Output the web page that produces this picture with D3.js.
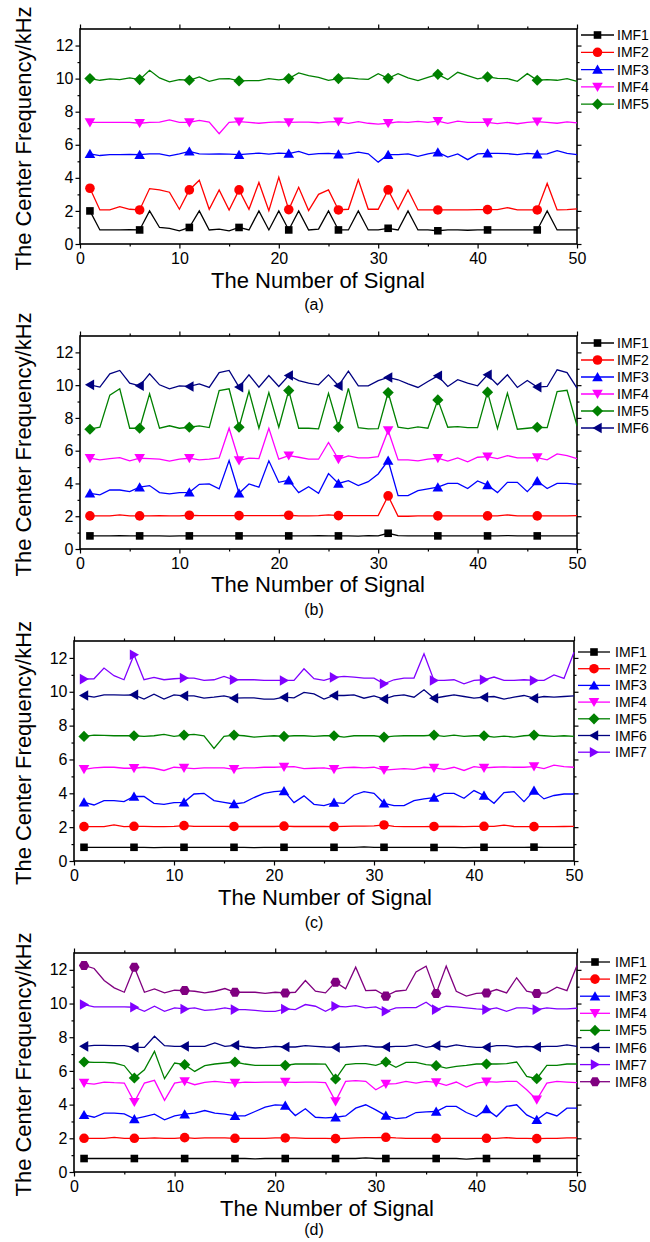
<!DOCTYPE html>
<html><head><meta charset="utf-8">
<script src="https://cdn.jsdelivr.net/npm/d3@7"></script>
<style>body{margin:0;background:#fff} svg{display:block}</style>
</head><body><svg id="chart" width="650" height="1242"></svg>
<script>
const FONT = '"Liberation Sans", Arial, sans-serif';
const xTicks = [0, 10, 20, 30, 40, 50];
const xMinor = [5, 15, 25, 35, 45];
const yTicks = [0, 2, 4, 6, 8, 10, 12];
const yMinor = [1, 3, 5, 7, 9, 11];
const seriesNames = ['IMF1', 'IMF2', 'IMF3', 'IMF4', 'IMF5', 'IMF6', 'IMF7', 'IMF8'];
const panelLabels = ['(a)', '(b)', '(c)', '(d)'];
const xTitle = 'The Number of Signal';
const yTitle = 'The Center Frequency/kHz';

// Panel (a)
const aIMF1 = [2.0,0.85,0.85,0.85,0.87,0.85,2.0,1.0,0.95,0.8, 1.0,2.0,0.85,0.9,0.8,1.0,0.85,2.0,0.85,2.0, 0.85,2.0,0.85,0.9,2.0,0.85,0.85,2.0,0.85,0.85, 0.95,0.85,2.0,0.85,0.85,0.8,0.85,0.85,0.83,0.85, 0.85,0.85,0.85,0.85,0.85,0.85,2.0,0.85,0.85,0.85];
const aIMF2 = [3.37,2.06,2.06,2.26,2.1,2.06,3.35,3.27,3.13,2.1, 3.27,3.86,2.1,3.27,2.06,3.27,2.1,3.72,2.02,4.04, 2.08,3.43,2.02,3.0,3.27,2.06,2.1,3.88,2.1,2.1, 3.27,2.1,3.27,2.06,2.06,2.06,2.06,2.06,2.06,2.08, 2.08,2.08,2.2,2.06,2.06,2.06,3.66,2.06,2.08,2.12];
const aIMF3 = [5.45,5.35,5.4,5.4,5.42,5.4,5.45,5.45,5.33,5.45, 5.6,5.45,5.43,5.45,5.43,5.4,5.45,5.5,5.43,5.5, 5.47,5.6,5.4,5.46,5.48,5.43,5.45,5.55,5.45,4.95, 5.4,5.4,5.45,5.3,5.45,5.55,5.25,5.45,5.1,5.45, 5.48,5.48,5.46,5.4,5.48,5.43,5.45,5.65,5.48,5.4];
const aIMF4 = [7.35,7.35,7.35,7.35,7.35,7.3,7.35,7.37,7.5,7.35, 7.35,7.47,7.37,6.67,7.35,7.4,7.35,7.3,7.35,7.38, 7.35,7.37,7.37,7.33,7.38,7.4,7.3,7.4,7.3,7.25, 7.3,7.38,7.35,7.42,7.35,7.43,7.3,7.43,7.35,7.35, 7.35,7.28,7.35,7.27,7.35,7.4,7.35,7.3,7.38,7.32];
const aIMF5 = [10.0,9.9,9.98,9.94,10.04,9.94,10.5,10.04,9.8,9.94, 9.9,10.1,9.84,9.98,10.0,9.86,9.88,9.88,10.0,9.92, 10.0,10.34,10.18,10.08,9.9,10.0,10.04,9.98,9.96,10.3, 10.02,10.3,10.04,9.88,10.08,10.26,9.94,10.38,10.18,9.98, 10.1,10.02,10.0,9.84,10.3,9.9,9.94,9.9,10.0,9.84];

// Panel (b)
const bIMF1 = [0.8,0.8,0.8,0.82,0.8,0.8,0.8,0.8,0.79,0.8, 0.8,0.8,0.8,0.8,0.8,0.8,0.8,0.8,0.8,0.8, 0.8,0.8,0.8,0.82,0.8,0.8,0.8,0.78,0.82,0.8, 0.96,0.82,0.8,0.8,0.8,0.8,0.8,0.8,0.8,0.8, 0.8,0.8,0.82,0.8,0.8,0.8,0.8,0.8,0.8,0.8];
const bIMF2 = [2.02,2.02,2.02,2.08,2.02,2.02,2.02,2.04,2.02,2.02, 2.06,2.04,2.04,2.04,2.04,2.04,2.04,2.04,2.04,2.04, 2.06,2.02,2.02,2.04,2.08,2.04,2.04,2.04,2.04,2.04, 3.24,2.0,2.0,2.02,2.02,2.02,2.02,2.02,2.02,2.02, 2.02,2.02,2.08,2.02,2.02,2.02,2.02,2.02,2.02,2.04];
const bIMF3 = [3.4,3.3,3.6,3.6,3.5,3.77,3.87,3.44,3.36,3.44, 3.46,3.95,3.97,3.67,5.4,3.4,3.97,3.77,5.38,4.07, 4.2,3.44,3.8,3.4,4.6,4.0,4.17,3.87,4.11,4.58, 5.4,3.26,3.26,3.56,3.67,3.77,4.0,4.0,3.69,4.15, 3.9,3.44,4.07,4.07,3.5,4.15,3.69,4.0,4.0,3.95];
const bIMF4 = [5.54,5.44,5.52,5.58,5.38,5.54,5.52,5.48,5.36,5.48, 5.54,5.44,5.48,5.56,7.37,5.4,5.54,5.52,7.37,5.48, 5.7,5.6,5.48,5.48,6.5,5.48,5.68,5.56,5.56,5.64, 7.23,5.44,5.44,5.38,5.48,5.54,5.36,5.56,5.32,5.6, 5.64,5.52,5.7,5.56,5.56,5.58,5.44,5.8,5.7,5.52];
const bIMF5 = [7.31,7.43,9.39,9.78,7.37,7.37,9.47,7.37,7.52,7.37, 7.43,7.52,7.41,9.67,9.78,7.43,9.63,7.37,9.55,7.43, 9.67,7.37,7.37,7.33,9.5,7.43,9.8,7.41,7.33,7.35, 9.55,7.43,7.35,7.45,7.37,9.1,7.43,7.47,7.41,7.41, 9.57,7.35,9.51,7.31,7.37,7.43,7.41,9.61,9.69,7.52];
const bIMF6 = [10.02,9.88,10.69,10.9,10.12,9.96,10.69,10.02,9.78,9.96, 9.92,10.08,9.86,10.77,10.9,9.88,10.63,9.88,10.59,9.92, 10.59,10.28,10.12,10.02,10.63,9.96,10.86,9.96,9.96,10.28, 10.47,10.33,10.08,9.86,10.22,10.57,9.92,10.33,10.12,9.96, 10.63,10.02,10.63,9.86,10.28,9.88,9.92,10.94,10.77,9.82];

// Panel (c)
const cIMF1 = [0.81,0.8,0.81,0.81,0.8,0.81,0.81,0.79,0.81,0.8, 0.81,0.81,0.8,0.81,0.81,0.81,0.81,0.79,0.8,0.81, 0.81,0.81,0.81,0.8,0.81,0.81,0.81,0.8,0.83,0.81, 0.81,0.81,0.81,0.81,0.8,0.8,0.81,0.81,0.79,0.81, 0.81,0.81,0.81,0.81,0.81,0.82,0.81,0.8,0.81,0.8];
const cIMF2 = [2.03,2.03,2.03,2.13,2.03,2.05,2.05,2.03,2.03,2.05, 2.09,2.05,2.05,2.05,2.05,2.04,2.04,2.04,2.04,2.04, 2.06,2.04,2.04,2.05,2.04,2.03,2.05,2.06,2.06,2.07, 2.13,2.05,2.03,2.03,2.03,2.04,2.04,2.04,2.03,2.05, 2.05,2.05,2.12,2.04,2.03,2.03,2.03,2.03,2.04,2.05];
const cIMF3 = [3.47,3.31,3.57,3.57,3.51,3.81,3.81,3.41,3.35,3.45, 3.47,3.96,4.0,3.57,3.47,3.37,3.45,3.75,4.0,4.1, 4.14,3.45,3.85,3.35,3.27,3.45,3.41,3.9,4.1,4.0, 3.41,3.27,3.27,3.57,3.67,3.75,4.0,4.0,3.71,4.16, 3.87,3.41,4.04,4.1,3.51,4.16,3.67,3.87,3.96,3.96];
const cIMF4 = [5.42,5.5,5.54,5.54,5.48,5.48,5.54,5.48,5.35,5.54, 5.5,5.46,5.5,5.5,5.5,5.42,5.5,5.5,5.54,5.54, 5.56,5.58,5.46,5.48,5.5,5.42,5.52,5.54,5.5,5.54, 5.37,5.42,5.46,5.42,5.54,5.5,5.42,5.54,5.35,5.58, 5.5,5.54,5.56,5.54,5.54,5.58,5.46,5.66,5.58,5.54];
const cIMF5 = [7.36,7.44,7.42,7.4,7.4,7.4,7.36,7.4,7.48,7.36, 7.44,7.48,7.4,6.65,7.36,7.44,7.4,7.32,7.36,7.4, 7.36,7.4,7.4,7.36,7.4,7.4,7.32,7.4,7.4,7.4, 7.32,7.38,7.4,7.4,7.4,7.44,7.36,7.44,7.36,7.4, 7.4,7.32,7.38,7.32,7.4,7.44,7.4,7.36,7.4,7.36];
const cIMF6 = [9.78,9.68,9.82,9.82,9.8,9.82,9.57,9.86,9.57,9.82, 9.76,9.76,9.62,9.68,9.76,9.62,9.64,9.64,9.57,9.57, 9.68,9.64,9.96,9.88,9.57,9.78,9.78,9.82,9.62,9.76, 9.57,9.76,9.82,9.68,10.12,9.62,9.72,9.82,9.72,9.62, 9.68,9.72,9.57,9.68,9.78,9.62,9.72,9.68,9.72,9.76];
const cIMF7 = [10.75,10.77,11.4,10.95,10.71,12.19,10.71,10.85,10.71,10.77, 10.81,10.81,10.67,10.71,10.91,10.71,10.71,10.71,10.67,10.67, 10.67,10.67,11.36,10.77,10.67,10.85,10.91,10.87,10.81,10.81, 10.47,10.71,10.81,10.81,12.25,10.67,10.67,10.71,10.47,10.67, 10.71,10.87,10.67,10.67,10.71,10.67,10.67,11.0,10.79,12.33];

// Panel (d)
const dIMF1 = [0.8,0.8,0.8,0.8,0.8,0.8,0.8,0.8,0.8,0.8, 0.8,0.8,0.8,0.8,0.8,0.8,0.8,0.78,0.8,0.8, 0.8,0.8,0.8,0.8,0.8,0.8,0.8,0.8,0.84,0.8, 0.8,0.8,0.8,0.8,0.8,0.8,0.8,0.8,0.76,0.8, 0.8,0.8,0.8,0.8,0.8,0.8,0.8,0.8,0.8,0.8];
const dIMF2 = [2.0,2.0,2.0,2.06,2.0,2.0,2.0,2.02,2.0,2.0, 2.04,2.0,2.02,2.02,2.02,2.0,2.0,2.0,2.0,2.02, 2.02,2.02,2.0,2.0,2.0,1.98,2.0,2.02,2.04,2.04, 2.06,2.02,2.0,2.0,2.0,2.0,2.0,2.0,2.0,2.0, 2.0,2.0,2.04,2.0,2.0,1.98,2.0,2.0,2.02,2.02];
const dIMF3 = [3.39,3.25,3.49,3.49,3.45,3.15,3.29,3.43,3.1,3.33, 3.43,3.49,3.65,3.49,3.43,3.33,3.33,3.59,3.85,3.99, 3.95,3.35,3.75,3.25,3.21,3.25,3.33,3.79,3.99,3.69, 3.35,3.17,3.23,3.53,3.57,3.59,3.89,3.89,3.53,3.29, 3.73,3.29,3.89,3.99,3.39,3.1,3.53,3.33,3.79,3.79];
const dIMF4 = [5.28,5.22,5.34,5.3,5.28,4.15,5.28,5.44,4.25,5.28, 5.38,5.18,5.32,5.38,5.32,5.28,5.34,5.32,5.34,5.34, 5.34,5.32,5.34,5.34,5.3,4.19,5.38,5.42,5.38,4.88, 5.22,5.24,5.38,5.28,5.38,5.32,5.14,5.34,5.04,5.28, 5.36,5.34,5.38,5.38,4.88,4.29,5.28,5.38,5.34,5.3];
const dIMF5 = [6.53,6.51,6.51,6.47,6.31,5.58,6.07,7.16,5.54,6.47, 6.37,5.97,6.31,6.41,6.47,6.53,6.41,6.33,6.33,6.33, 6.33,6.41,6.41,6.41,6.4,5.52,6.37,6.43,6.43,6.33, 6.53,6.21,6.51,6.51,6.37,6.31,6.17,6.27,6.33,6.41, 6.41,6.41,6.43,6.53,5.67,5.54,6.33,6.33,6.41,6.41];
const dIMF6 = [7.46,7.52,7.52,7.5,7.5,7.4,7.4,8.06,7.5,7.46, 7.46,7.46,7.46,7.66,7.46,7.52,7.42,7.36,7.4,7.46, 7.42,7.42,7.5,7.46,7.42,7.4,7.42,7.46,7.5,7.42, 7.42,7.46,7.46,7.56,7.4,7.5,7.42,7.54,7.46,7.4, 7.4,7.5,7.5,7.42,7.46,7.42,7.46,7.46,7.54,7.46];
const dIMF7 = [9.94,9.8,9.8,9.8,9.8,9.78,9.54,9.84,9.54,9.74, 9.68,9.74,9.6,9.64,9.74,9.64,9.64,9.6,9.54,9.54, 9.68,9.64,9.94,9.84,9.54,9.84,9.8,9.88,9.74,9.8, 9.54,9.74,9.76,9.76,10.08,9.64,9.84,9.8,9.74,9.68, 9.64,9.74,9.54,9.74,9.74,9.64,9.74,9.68,9.68,9.72];
const dIMF8 = [12.26,12.08,11.37,10.93,10.67,12.16,10.67,10.87,10.63,10.79, 10.77,10.73,10.63,10.73,10.89,10.67,10.67,10.67,10.6,10.67, 10.63,10.67,11.37,10.73,10.63,11.27,10.87,12.16,10.77,10.79, 10.44,10.73,10.79,11.87,12.22,10.6,12.22,10.73,10.44,10.6, 10.63,10.83,10.63,11.53,10.73,10.6,10.63,10.97,10.77,12.26];

const panelSeries = [
  [aIMF1, aIMF2, aIMF3, aIMF4, aIMF5],
  [bIMF1, bIMF2, bIMF3, bIMF4, bIMF5, bIMF6],
  [cIMF1, cIMF2, cIMF3, cIMF4, cIMF5, cIMF6, cIMF7],
  [dIMF1, dIMF2, dIMF3, dIMF4, dIMF5, dIMF6, dIMF7, dIMF8]
];

// Styles
const colors = ['#000000', '#ff0000', '#0000ff', '#ff00ff', '#008000', '#000080', '#8000ff', '#800080'];
const shapes = ['square', 'circle', 'triUp', 'triDown', 'diamond', 'triLeft', 'triRight', 'hexagon'];

// Layout
const layouts = [
  {left: 80, right: 577, top: 29, bottom: 244, lgX0: 581, lgX1: 614, lgText: 617, lgY0: 35, lgDy: 17.3, xTitleX: 318, xTitleY: 288, labY: 310},
  {left: 80, right: 577, top: 336, bottom: 549, lgX0: 581, lgX1: 614, lgText: 617, lgY0: 343, lgDy: 17.0, xTitleX: 318, xTitleY: 592, labY: 615},
  {left: 74, right: 574, top: 641, bottom: 861, lgX0: 578, lgX1: 610, lgText: 615, lgY0: 652, lgDy: 16.7, xTitleX: 325, xTitleY: 905, labY: 928},
  {left: 74, right: 577, top: 953, bottom: 1172, lgX0: 580, lgX1: 610, lgText: 615, lgY0: 962, lgDy: 17.1, xTitleX: 327, xTitleY: 1216, labY: 1235}
];

function markerPath(type) {
  const poly = pts => 'M' + pts.map(p => p.join(',')).join('L') + 'Z';
  switch (type) {
    case 'square': return poly([[-3.8,-3.8],[3.8,-3.8],[3.8,3.8],[-3.8,3.8]]);
    case 'circle': return 'M4.8,0A4.8,4.8 0 1,1 -4.8,0A4.8,4.8 0 1,1 4.8,0Z';
    case 'triUp': return poly([[0,-5],[5.3,4.2],[-5.3,4.2]]);
    case 'triDown': return poly([[0,5],[5.3,-4.2],[-5.3,-4.2]]);
    case 'diamond': return poly([[0,-5.6],[5.6,0],[0,5.6],[-5.6,0]]);
    case 'triLeft': return poly([[-5,0],[4.2,-5.3],[4.2,5.3]]);
    case 'triRight': return poly([[5,0],[-4.2,-5.3],[-4.2,5.3]]);
    case 'hexagon': {
      const pts = d3.range(6).map(k => { const a = Math.PI / 3 * k; return [5.2 * Math.cos(a), 5.2 * Math.sin(a)]; });
      return poly(pts);
    }
  }
}

const svg = d3.select('#chart');

layouts.forEach((L, pi) => {
  const x = d3.scaleLinear().domain([0, 50]).range([L.left, L.right]);
  const y = d3.scaleLinear().domain([0, 13]).range([L.bottom, L.top]);
  const g = svg.append('g');

  const mkAxis = (fn, scale, vals, size, labels, tr, pad) => {
    const a = fn(scale).tickValues(vals).tickSizeInner(size).tickSizeOuter(0).tickPadding(labels ? pad : 0);
    if (!labels) a.tickFormat('');
    const gg = g.append('g').attr('transform', tr).call(a);
    gg.select('.domain').remove();
    gg.selectAll('line').attr('stroke', '#000').attr('stroke-width', 1.2);
    gg.selectAll('text').attr('font-size', 16).attr('font-family', FONT).attr('fill', '#000');
    return gg;
  };
  mkAxis(d3.axisBottom, x, xTicks, 4.5, true, `translate(0,${L.bottom})`, 4);
  mkAxis(d3.axisBottom, x, xMinor, 2.5, false, `translate(0,${L.bottom})`);
  mkAxis(d3.axisTop, x, xTicks, 4.5, false, `translate(0,${L.top})`);
  mkAxis(d3.axisTop, x, xMinor, 2.5, false, `translate(0,${L.top})`);
  mkAxis(d3.axisLeft, y, yTicks, 4.5, true, `translate(${L.left},0)`, 2);
  mkAxis(d3.axisLeft, y, yMinor, 2.5, false, `translate(${L.left},0)`);
  mkAxis(d3.axisRight, y, yTicks, 4.5, false, `translate(${L.right},0)`);
  mkAxis(d3.axisRight, y, yMinor, 2.5, false, `translate(${L.right},0)`);

  g.append('rect').attr('x', L.left).attr('y', L.top)
    .attr('width', L.right - L.left).attr('height', L.bottom - L.top)
    .attr('fill', 'none').attr('stroke', '#000').attr('stroke-width', 1.6);

  const line = d3.line().x((d, i) => x(i + 1)).y(d => y(d));
  panelSeries[pi].forEach((vals, si) => {
    g.append('path').datum(vals).attr('d', line)
      .attr('fill', 'none').attr('stroke', colors[si]).attr('stroke-width', 1.3)
      .attr('stroke-linejoin', 'miter');
    g.selectAll(null).data(vals.map((v, i) => ({v, i})).filter(d => d.i % 5 === 0))
      .enter().append('path')
      .attr('d', markerPath(shapes[si]))
      .attr('transform', d => `translate(${x(d.i + 1)},${y(d.v)})`)
      .attr('fill', colors[si]);
    // legend
    const ly = L.lgY0 + si * L.lgDy;
    g.append('line').attr('x1', L.lgX0).attr('x2', L.lgX1).attr('y1', ly).attr('y2', ly)
      .attr('stroke', colors[si]).attr('stroke-width', 1.3);
    g.append('path').attr('d', markerPath(shapes[si]))
      .attr('transform', `translate(${(L.lgX0 + L.lgX1) / 2},${ly})`).attr('fill', colors[si]);
    g.append('text').attr('x', L.lgText).attr('y', ly).attr('dy', '0.36em')
      .attr('font-size', 14).attr('font-family', FONT).text(seriesNames[si]);
  });

  // titles
  g.append('text').attr('x', L.xTitleX).attr('y', L.xTitleY).attr('text-anchor', 'middle')
    .attr('font-size', 22).attr('font-family', FONT).text(xTitle);
  const cy = (L.top + L.bottom) / 2 + 2;
  g.append('text').attr('transform', `translate(31,${cy}) rotate(-90)`).attr('text-anchor', 'middle')
    .attr('font-size', 22).attr('font-family', FONT).text(yTitle);
  g.append('text').attr('x', 314).attr('y', L.labY).attr('text-anchor', 'middle')
    .attr('font-size', 16).attr('font-family', FONT).text(panelLabels[pi]);
});
</script>
</body></html>
